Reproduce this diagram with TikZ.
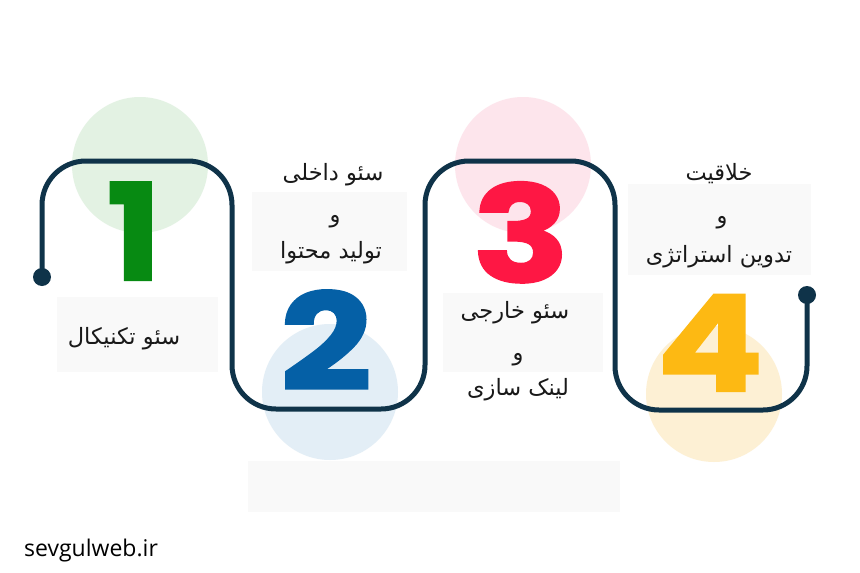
\documentclass[tikz,border=0pt]{standalone}
\usepackage{graphicx}
\usepackage{fontspec}
\setmainfont{DejaVu Sans}
\newfontfamily\arabicfont[Script=Arabic]{DejaVu Sans}
\newfontfamily\digitfont{Poppins}[BoldFeatures={FakeBold=1.5}]
\newfontfamily\wmfont{Open Sans}
\TeXXeTstate=1
\definecolor{navy}{HTML}{0F3349}
\definecolor{cgreen}{HTML}{E3F2E3}
\definecolor{cblue}{HTML}{E3EEF6}
\definecolor{cpink}{HTML}{FDE5EC}
\definecolor{cyellow}{HTML}{FDF0D4}
\definecolor{dgreen}{HTML}{078A12}
\definecolor{dblue}{HTML}{0560A6}
\definecolor{dred}{HTML}{FE1744}
\definecolor{dyellow}{HTML}{FDB913}
\definecolor{boxgray}{HTML}{F9F9F9}
\newcommand{\bigdigit}[2]{\scalebox{#1}[1]{#2}}
\begin{document}
\begin{tikzpicture}[x=1pt,y=-1pt,
  bgcirc/.style={circle,inner sep=0pt,minimum size=136pt,draw=none},
  txtbox/.style={rectangle,fill=boxgray,draw=none,inner sep=0pt},
  snake/.style={draw=navy,line width=5pt,rounded corners=44pt},
  enddot/.style={circle,fill=navy,inner sep=0pt,minimum size=18pt},
  fa/.style={anchor=base,inner sep=0pt,text=black!90,font=\arabicfont\fontsize{22.5}{26}\selectfont},
  digit/.style={anchor=base,inner sep=0pt,font=\digitfont\bfseries\fontsize{134}{134}\selectfont}]
\useasboundingbox[fill=white] (0,0) rectangle (860,573);
% background circles
\node[bgcirc,fill=cgreen] (c1) at (140,165) {};
\node[bgcirc,fill=cblue] (c2) at (330,392) {};
\node[bgcirc,fill=cpink] (c3) at (523,165) {};
\node[bgcirc,fill=cyellow] (c4) at (714,394) {};
% text boxes
\node[txtbox,minimum width=161pt,minimum height=75pt] (b1) at (137.5,334.5) {};
\node[txtbox,minimum width=155pt,minimum height=79pt] (b2) at (329.5,231.5) {};
\node[txtbox,minimum width=160pt,minimum height=79pt] (b3) at (523,332.5) {};
\node[txtbox,minimum width=183pt,minimum height=91pt] (b4) at (719.5,229.5) {};
\node[txtbox,minimum width=372pt,minimum height=51pt] (b5) at (434,486.5) {};
% serpentine line
\node[enddot] (s) at (42,277) {};
\node[enddot] (e) at (807,295) {};
\coordinate (k1) at (42,161);
\coordinate (k2) at (232,161);
\coordinate (k3) at (232,409);
\coordinate (k4) at (425,409);
\coordinate (k5) at (425,161);
\coordinate (k6) at (615,161);
\coordinate (k7) at (615,410);
\coordinate (k8) at (807,410);
\draw[snake] (s.center) -- (k1) -- (k2) -- (k3) -- (k4) -- (k5) -- (k6) -- (k7) -- (k8) -- (e.center);
% digits
\node[digit,text=dgreen] (d1) at (134,280) {\bigdigit{1.08}{1}};
\node[digit,text=dblue] (d2) at (326,390) {\bigdigit{1.2}{2}};
\node[digit,text=dred] (d3) at (521,282) {\bigdigit{1.2}{3}};
\node[digit,text=dyellow] (d4) at (710,391) {\bigdigit{1.18}{4}};
% labels
\node[fa] (t1) at (124,344) {\beginR سئو تکنیکال\endR};
\node[fa] (t2a) at (333,180) {\beginR سئو داخلی\endR};
\node[fa] (t2b) at (335,222) {\beginR و\endR};
\node[fa] (t2c) at (331,258) {\beginR تولید محتوا\endR};
\node[fa] (t3a) at (515,318) {\beginR سئو خارجی\endR};
\node[fa] (t3b) at (518,360) {\beginR و\endR};
\node[fa] (t3c) at (518,395) {\beginR لینک سازی\endR};
\node[fa] (t4a) at (719,180) {\beginR خلاقیت\endR};
\node[fa] (t4b) at (722,223) {\beginR و\endR};
\node[fa] (t4c) at (719,262) {\beginR تدوین استراتژی\endR};
% watermark
\node[anchor=base west,inner sep=0pt,text=black,font=\wmfont\fontsize{23}{25}\selectfont] (wm) at (24,556) {sevgulweb.ir};
\end{tikzpicture}
\end{document}
